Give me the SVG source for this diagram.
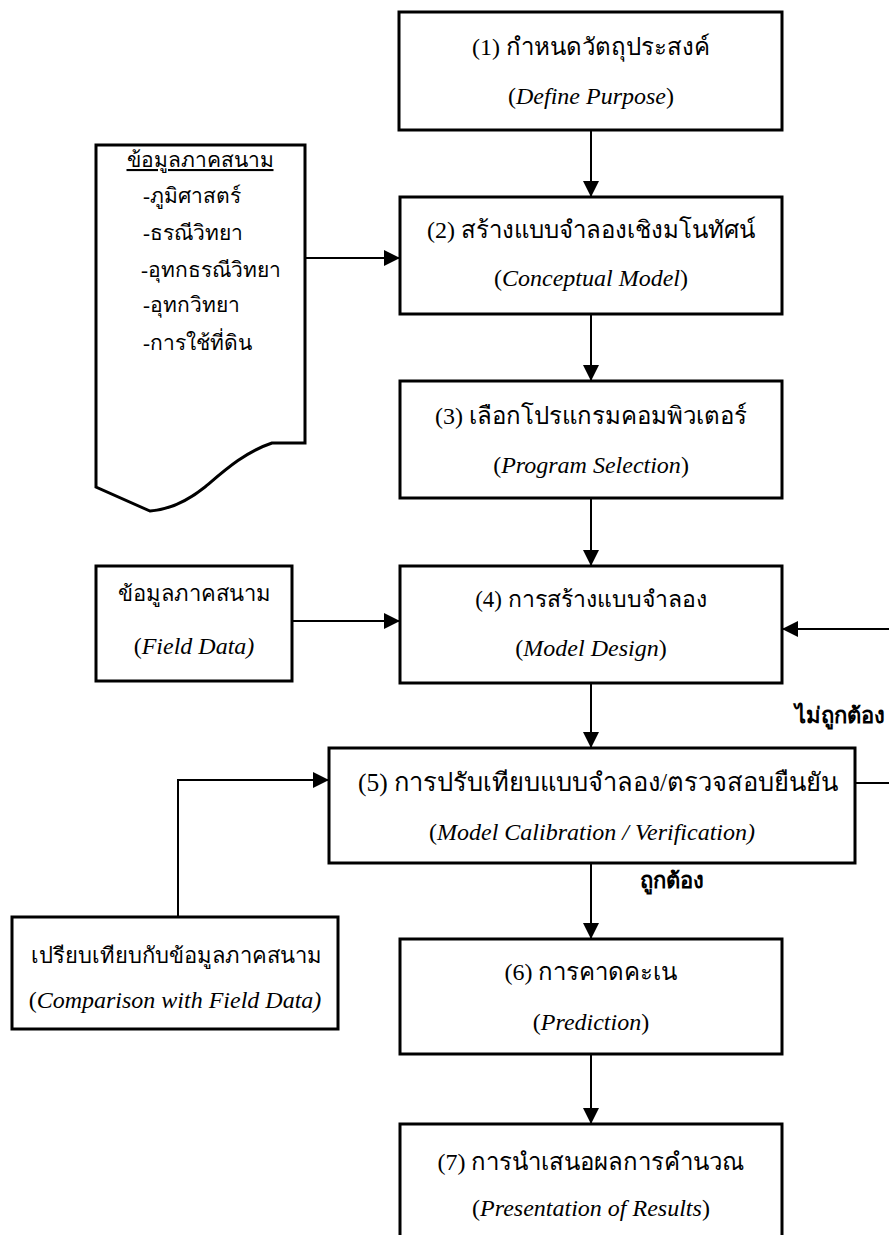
<svg xmlns="http://www.w3.org/2000/svg" width="889" height="1235" viewBox="0 0 889 1235">
<defs>
<style>
.box{fill:#fff;stroke:#000;stroke-width:3}
.ln{fill:none;stroke:#000;stroke-width:2}
text{font-family:"Liberation Serif","DejaVu Serif",serif;font-size:24px;fill:#000}
.c{text-anchor:middle}
.i{font-style:italic;font-family:"Liberation Serif",serif}
.s{font-size:21px}
.m{font-size:22px}
.b{font-weight:bold;font-family:"Liberation Sans","DejaVu Sans",sans-serif;font-size:22px}
</style>
<marker id="ah" markerUnits="userSpaceOnUse" markerWidth="18" markerHeight="16" refX="16" refY="8" orient="auto">
<path d="M0,0 L16,8 L0,16 Z" fill="#000"/>
</marker>
</defs>
<rect width="889" height="1235" fill="#fff"/>

<g id="connectors">
<line class="ln" x1="591" y1="130" x2="591" y2="197" marker-end="url(#ah)"/>
<line class="ln" x1="305" y1="258" x2="400" y2="258" marker-end="url(#ah)"/>
<line class="ln" x1="591" y1="314" x2="591" y2="381" marker-end="url(#ah)"/>
<line class="ln" x1="591" y1="498" x2="591" y2="566" marker-end="url(#ah)"/>
<line class="ln" x1="292" y1="621" x2="400" y2="621" marker-end="url(#ah)"/>
<line class="ln" x1="889" y1="629" x2="782" y2="629" marker-end="url(#ah)"/>
<line class="ln" x1="591" y1="683" x2="591" y2="748" marker-end="url(#ah)"/>
<line class="ln" x1="855" y1="783" x2="889" y2="783"/>
<polyline class="ln" points="178,917 178,780 329,780" marker-end="url(#ah)"/>
<line class="ln" x1="591" y1="863" x2="591" y2="939" marker-end="url(#ah)"/>
<line class="ln" x1="591" y1="1054" x2="591" y2="1124" marker-end="url(#ah)"/>
<text class="b" x="795" y="723">ไม่ถูกต้อง</text>
<text class="b" x="640" y="888">ถูกต้อง</text>
</g>

<g id="n1">
<rect class="box" x="399" y="12" width="383" height="118"/>
<text class="c" x="591" y="55">(1) กำหนดวัตถุประสงค์</text>
<text class="c" x="591" y="104">(<tspan class="i">Define Purpose</tspan>)</text>
</g>

<g id="doc">
<path class="box" d="M96,145 H305 V443 H272 C245,452 225,470 205,487 C185,503 165,510 150,511 L96,487 Z"/>
<text class="c s" x="200" y="167" text-decoration="underline">ข้อมูลภาคสนาม</text>
<text class="s" x="143" y="203">-ภูมิศาสตร์</text>
<text class="s" x="143" y="240">-ธรณีวิทยา</text>
<text class="s" x="141" y="277">-อุทกธรณีวิทยา</text>
<text class="s" x="143" y="312">-อุทกวิทยา</text>
<text class="s" x="143" y="350">-การใช้ที่ดิน</text>
</g>

<g id="n2">
<rect class="box" x="400" y="197" width="382" height="117"/>
<text class="c" x="591" y="238">(2) สร้างแบบจำลองเชิงมโนทัศน์</text>
<text class="c" x="591" y="286">(<tspan class="i">Conceptual Model</tspan>)</text>
</g>

<g id="n3">
<rect class="box" x="400" y="381" width="382" height="117"/>
<text class="c" x="591" y="424">(3) เลือกโปรแกรมคอมพิวเตอร์</text>
<text class="c" x="591" y="473">(<tspan class="i">Program Selection</tspan>)</text>
</g>

<g id="fd">
<rect class="box" x="96" y="566" width="196" height="115"/>
<text class="c m" x="194" y="601">ข้อมูลภาคสนาม</text>
<text class="c" x="194" y="654">(<tspan class="i">Field Data)</tspan></text>
</g>

<g id="n4">
<rect class="box" x="400" y="566" width="382" height="117"/>
<text class="c" x="591" y="607" style="font-size:23px">(4) การสร้างแบบจำลอง</text>
<text class="c" x="591" y="656">(<tspan class="i">Model Design</tspan>)</text>
</g>

<g id="n5">
<rect class="box" x="329" y="748" width="526" height="115"/>
<text class="c" x="598" y="791" style="font-size:25.5px">(5) การปรับเทียบแบบจำลอง/ตรวจสอบยืนยัน</text>
<text class="c" x="592" y="840">(<tspan class="i">Model Calibration / Verification)</tspan></text>
</g>

<g id="cmp">
<rect class="box" x="12" y="917" width="326" height="112"/>
<text class="c m" x="176" y="963">เปรียบเทียบกับข้อมูลภาคสนาม</text>
<text class="c" x="175" y="1008">(<tspan class="i">Comparison with Field Data)</tspan></text>
</g>

<g id="n6">
<rect class="box" x="400" y="939" width="382" height="115"/>
<text class="c" x="591" y="980">(6) การคาดคะเน</text>
<text class="c" x="591" y="1030">(<tspan class="i">Prediction</tspan>)</text>
</g>

<g id="n7">
<path class="box" d="M400,1240 V1124 H782 V1240"/>
<text class="c" x="591" y="1170">(7) การนำเสนอผลการคำนวณ</text>
<text class="c" x="591" y="1216">(<tspan class="i">Presentation of Results</tspan>)</text>
</g>
</svg>
